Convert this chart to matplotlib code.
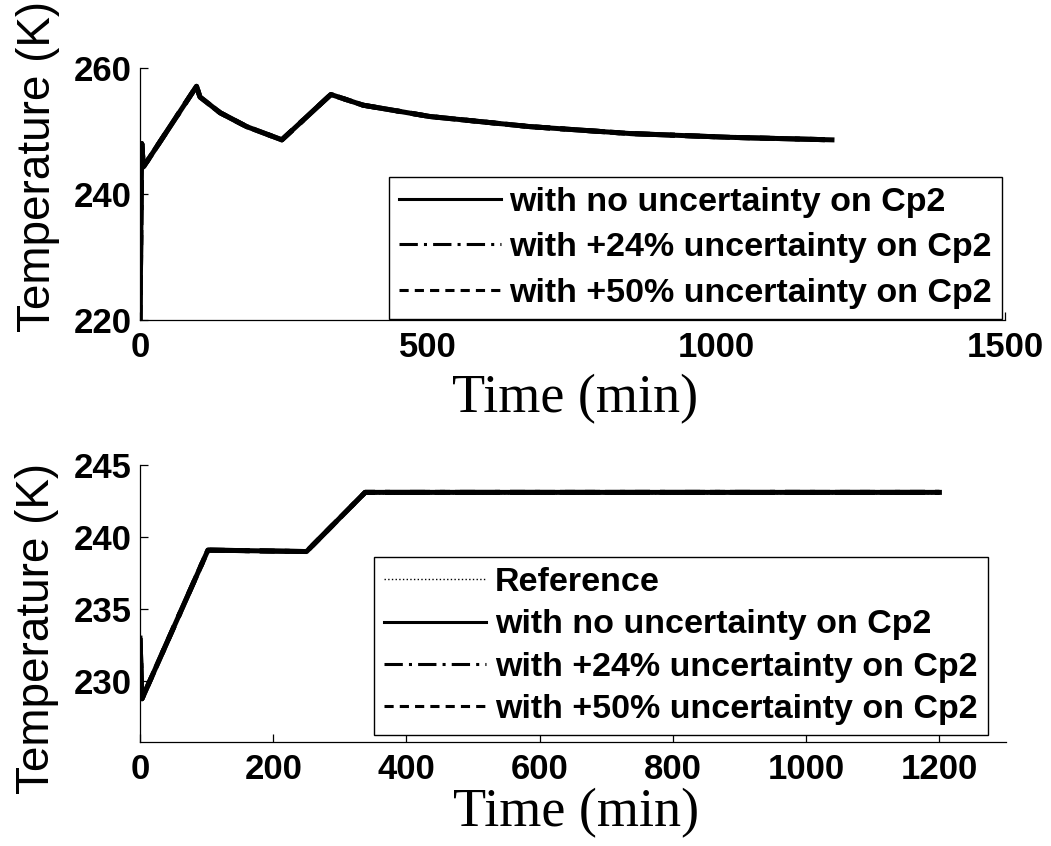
import numpy as np
import matplotlib
matplotlib.use("Agg")
import matplotlib.pyplot as plt

# ---------------------------------------------------------------
# data (time in min, temperature in K)
t_top = [0, 3, 6, 98, 104, 139, 185, 246, 331, 387, 503, 676, 850, 1023, 1200]
T_top = [220, 248.0, 244.3, 257.1, 255.4, 252.9, 250.7, 248.6, 255.8, 254.1,
         252.3, 250.7, 249.6, 249.0, 248.6]

t_bot = [0, 3, 102, 250, 338, 1200]
T_bot = [233.0, 228.8, 239.1, 239.0, 243.1, 243.1]
t_ref = [3, 102, 250, 338, 1200]
T_ref = [229.0, 239.0, 239.0, 243.0, 243.0]

labels = ["with no uncertainty on Cp2",
          "with +24% uncertainty on Cp2",
          "with +50% uncertainty on Cp2"]
styles = ["-", (0, (6, 2, 1, 2)), (0, (3, 2))]

tickfont = {'family': 'Liberation Sans', 'weight': 'bold', 'size': 25}
ylabfont = {'family': 'Liberation Sans', 'size': 33}
xlabfont = {'family': 'Liberation Serif', 'size': 39}
legprop = {'family': 'Liberation Sans', 'weight': 'bold', 'size': 24.5}

fig = plt.figure(figsize=(10.51, 8.46), dpi=100)
ax1 = fig.add_axes([0.1332, 0.6217, 0.8230, 0.2979])
ax2 = fig.add_axes([0.1332, 0.1229, 0.8240, 0.3275])


def style_axes(ax):
    for s in ['top', 'right']:
        ax.spines[s].set_visible(False)
    for s in ['left', 'bottom']:
        ax.spines[s].set_linewidth(0.9)
    ax.tick_params(direction='in', length=6, width=0.9)
    ax.tick_params(axis='x', pad=8)
    ax.tick_params(axis='y', pad=6)
    for lab in ax.get_xticklabels() + ax.get_yticklabels():
        lab.set_fontproperties(matplotlib.font_manager.FontProperties(**tickfont))


def make_legend(ax, anchor, spacing):
    leg = ax.legend(loc='lower right', bbox_to_anchor=anchor, borderaxespad=0,
                    prop=legprop, handlelength=3.0, handletextpad=0.25,
                    labelspacing=spacing, borderpad=0.3, fancybox=False,
                    framealpha=1, edgecolor='k')
    leg.get_frame().set_linewidth(1.0)
    for h in leg.get_lines():
        h.set_linewidth(2.2)
    return leg


# ---- top: no reference curve
for lab, ls in zip(labels, styles):
    ax1.plot(t_top, T_top, color='k', lw=3.6, ls=ls, label=lab)
ax1.set_xlim(0, 1500)
ax1.set_ylim(220, 260)
ax1.set_xticks([0, 500, 1000, 1500])
ax1.set_yticks([220, 240, 260])
style_axes(ax1)
ax1.set_xlabel("Time (min)", fontdict=xlabfont)
ax1.set_ylabel("Temperature (K)", fontdict=ylabfont)
ax1.xaxis.set_label_coords(0.503, -0.215)
ax1.yaxis.set_label_coords(-0.093, 0.61)
make_legend(ax1, (0.997, 0.005), 0.42)

# ---- bottom: reference + three cases
ax2.plot(t_ref, T_ref, color='k', lw=1, ls=':', label="Reference")
for lab, ls in zip(labels, styles):
    ax2.plot(t_bot, T_bot, color='k', lw=3.6, ls=ls, label=lab)
ax2.set_xlim(0, 1300)
ax2.set_ylim(225.8, 245)
ax2.set_xticks(np.arange(0, 1201, 200))
ax2.set_yticks([230, 235, 240, 245])
style_axes(ax2)
ax2.set_xlabel("Time (min)", fontdict=xlabfont)
ax2.set_ylabel("Temperature (K)", fontdict=ylabfont)
ax2.xaxis.set_label_coords(0.503, -0.165)
ax2.yaxis.set_label_coords(-0.093, 0.41)
leg2 = make_legend(ax2, (0.979, 0.025), 0.33)
leg2.get_lines()[0].set_linewidth(1.0)

fig.savefig("out.png", dpi=100)
